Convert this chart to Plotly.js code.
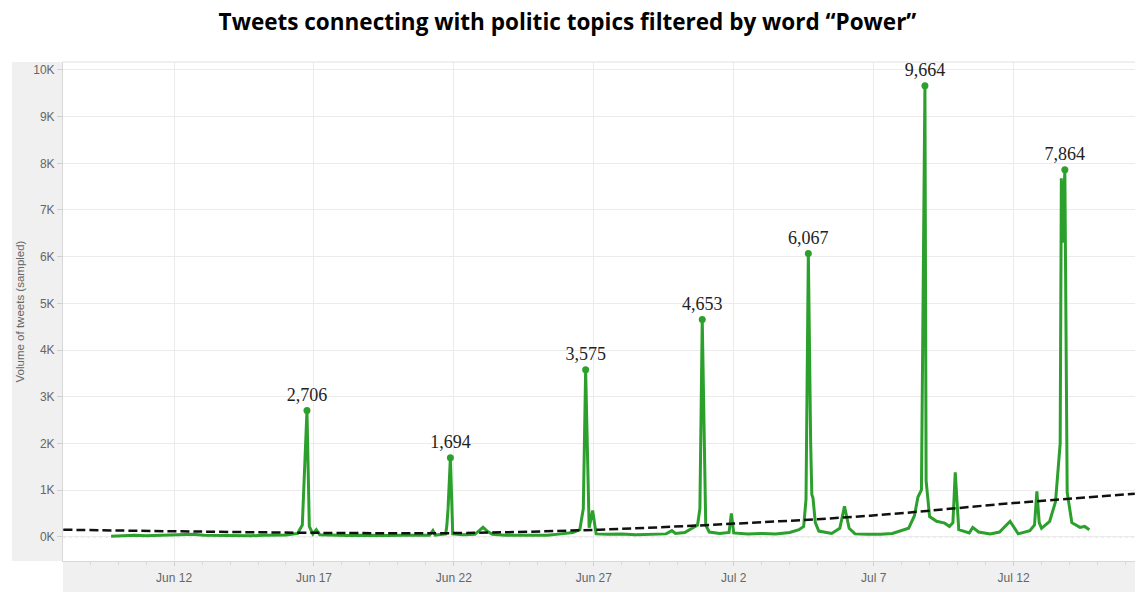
<!DOCTYPE html>
<html>
<head>
<meta charset="utf-8">
<script src="https://cdn.plot.ly/plotly-3.0.1.min.js"></script>
<style>html,body{margin:0;padding:0;background:#fff;}#chart{width:1135px;height:592px;}</style>
</head>
<body>
<div id="chart"></div>
<script>
// ---- data ----
const YEAR = '2016';
const times = [
 '06-09 18','06-10 04','06-10 14','06-11 00','06-11 10','06-11 20','06-12 06','06-12 16','06-13 02','06-13 12',
 '06-13 22','06-14 08','06-14 18','06-15 04','06-15 14','06-16 00','06-16 10','06-16 14','06-16 18','06-16 20',
 '06-16 23','06-17 02','06-17 05','06-17 16','06-18 04','06-18 16','06-19 04','06-19 16','06-20 04','06-20 16',
 '06-21 03','06-21 06','06-21 08','06-21 17','06-21 18','06-21 19','06-21 21','06-21 23','06-22 08','06-22 18',
 '06-22 21','06-23 01','06-23 05','06-23 09','06-23 20','06-24 08','06-24 20','06-25 08','06-25 20','06-26 06',
 '06-26 12','06-26 15','06-26 17','06-26 20','06-26 23','06-27 02','06-27 12','06-28 00','06-28 12','06-29 00',
 '06-29 14','06-29 19','06-29 22','06-30 06','06-30 12','06-30 17','06-30 19','06-30 21','07-01 00','07-01 03',
 '07-01 12','07-01 20','07-01 22','07-02 00','07-02 12','07-03 00','07-03 12','07-04 00','07-04 08','07-04 12',
 '07-04 14','07-04 16','07-04 18','07-04 19','07-04 20','07-04 22','07-05 01','07-05 12','07-05 19','07-05 23',
 '07-06 03','07-06 08','07-06 18','07-07 06','07-07 16','07-07 22','07-08 06','07-08 11','07-08 14','07-08 17',
 '07-08 20','07-08 21','07-09 00','07-09 06','07-09 13','07-09 17','07-09 20','07-09 22','07-10 01','07-10 10',
 '07-10 13','07-10 18','07-11 04','07-11 12','07-11 21','07-12 04','07-12 14','07-12 18','07-12 20','07-12 22',
 '07-13 00','07-13 07','07-13 12','07-13 16','07-13 17','07-13 18','07-13 20','07-13 22','07-14 02','07-14 09',
 '07-14 13','07-14 17'
];
const tweets = [
 10,25,30,20,30,25,35,50,30,25,
 35,25,20,30,25,35,70,250,2706,220,
 60,150,40,30,25,30,20,25,30,35,
 30,130,35,60,250,600,1694,60,40,50,
 110,200,110,50,30,25,35,30,60,90,
 150,600,3575,190,560,60,50,60,40,45,
 60,130,70,90,180,250,600,4653,250,100,
 70,90,500,80,60,70,60,90,150,220,
 800,6067,2000,900,830,300,120,70,180,650,
 180,60,50,50,70,110,180,450,850,1000,
 9664,1200,430,330,290,220,300,1380,150,80,
 200,100,60,100,330,60,130,250,970,300,
 180,330,750,2000,7680,6300,7864,950,300,200,
 220,150
];
const peakTimes = ['06-16 18','06-21 21','06-26 17','06-30 21','07-04 16','07-08 20','07-13 20'];
const peakValues = [2706,1694,3575,4653,6067,9664,7864];
const peakLabels = ['2,706','1,694','3,575','4,653','6,067','9,664','7,864'];
const trendTimes = ['06-08 01','06-12 19','06-17 14','06-20 02','06-22 10','06-27 05','07-02 01','07-06 21','07-12 00','07-16 08'];
const trendValues = [150,110,80,75,80,150,280,450,720,920];
const xTickDates = ['06-12','06-17','06-22','06-27','07-02','07-07','07-12'];
const xTickLabels = ['Jun 12','Jun 17','Jun 22','Jun 27','Jul 2','Jul 7','Jul 12'];
const yTickValues = [0,1000,2000,3000,4000,5000,6000,7000,8000,9000,10000];
const yTickLabels = ['0K','1K','2K','3K','4K','5K','6K','7K','8K','9K','10K'];

// ---- helpers ----
const toDate = s => { const [md, h] = s.split(' '); return YEAR + '-' + md + (h ? ' ' + h + ':00' : ''); };

const green = '#2ca02c';
const traces = [
  { x: times.map(toDate), y: tweets, type: 'scatter', mode: 'lines',
    line: { color: green, width: 3 }, hoverinfo: 'skip', showlegend: false },
  { x: trendTimes.map(toDate), y: trendValues, type: 'scatter', mode: 'lines',
    line: { color: '#111', width: 2.5, dash: '9px,4px', shape: 'spline' }, hoverinfo: 'skip', showlegend: false },
  { x: peakTimes.map(toDate), y: peakValues, type: 'scatter', mode: 'markers+text',
    marker: { color: green, size: 7 }, text: peakLabels, textposition: 'top center',
    textfont: { family: 'Liberation Serif, Times New Roman, serif', size: 18, color: '#222' },
    hoverinfo: 'skip', showlegend: false }
];

const layout = {
  width: 1135, height: 592,
  margin: { l: 63, r: 0, t: 62, b: 31 },
  paper_bgcolor: '#fff', plot_bgcolor: '#fff',
  title: { text: 'Tweets connecting with politic topics filtered by word “Power”',
    font: { family: 'Open Sans, Arial, sans-serif', size: 22.5, color: '#000', weight: 'bold' },
    x: 0.5, xanchor: 'center', y: 0.963, yanchor: 'middle' },
  xaxis: {
    type: 'date', range: [YEAR + '-06-08 00:45', YEAR + '-07-16 08:10'],
    tickmode: 'array', tickvals: xTickDates.map(toDate), ticktext: xTickLabels,
    ticks: 'outside', ticklen: 4, tickcolor: '#d0d0d0',
    tickfont: { family: 'Liberation Sans, Arial, sans-serif', size: 12, color: '#666' },
    ticklabelstandoff: 2,
    showgrid: true, gridcolor: '#ebebeb', gridwidth: 1,
    showline: true, linecolor: '#d8d8d8', linewidth: 1,
    minor: { tickmode: 'linear', tick0: YEAR + '-06-08', dtick: 86400000, ticks: 'outside', ticklen: 3, tickcolor: '#d8d8d8', showgrid: false },
    zeroline: false, fixedrange: true
  },
  yaxis: {
    range: [-521, 10171],
    tickmode: 'array', tickvals: yTickValues, ticktext: yTickLabels,
    ticks: 'outside', ticklen: 5, tickcolor: '#d0d0d0',
    tickfont: { family: 'Liberation Sans, Arial, sans-serif', size: 12, color: '#666' },
    showgrid: true, gridcolor: '#ebebeb', gridwidth: 1,
    showline: true, linecolor: '#d8d8d8', linewidth: 1,
    zeroline: false, fixedrange: true,
    title: { text: 'Volume of tweets (sampled)', standoff: 6,
      font: { family: 'Liberation Sans, Arial, sans-serif', size: 11.5, color: '#666' } }
  },
  shapes: [
    // gray y-axis panel
    { type: 'rect', xref: 'paper', yref: 'paper', x0: -51/1072, x1: 0, y0: 0, y1: 1,
      fillcolor: '#f0f0f0', line: { width: 0 }, layer: 'below' },
    // gray x-axis panel
    { type: 'rect', xref: 'paper', yref: 'paper', x0: 0, x1: 1, y0: -31/499, y1: -1/499,
      fillcolor: '#f0f0f0', line: { width: 0 }, layer: 'below' },
    // top border
    { type: 'line', xref: 'paper', yref: 'paper', x0: 0, x1: 1, y0: 1, y1: 1,
      line: { color: '#e0e0e0', width: 1 } },
    // dotted zero line
    { type: 'line', xref: 'paper', yref: 'y', x0: 0, x1: 1, y0: 0, y1: 0,
      line: { color: '#999', width: 1, dash: 'dot' }, layer: 'below' }
  ]
};

Plotly.newPlot('chart', traces, layout, { staticPlot: true, displayModeBar: false });
</script>
</body>
</html>
